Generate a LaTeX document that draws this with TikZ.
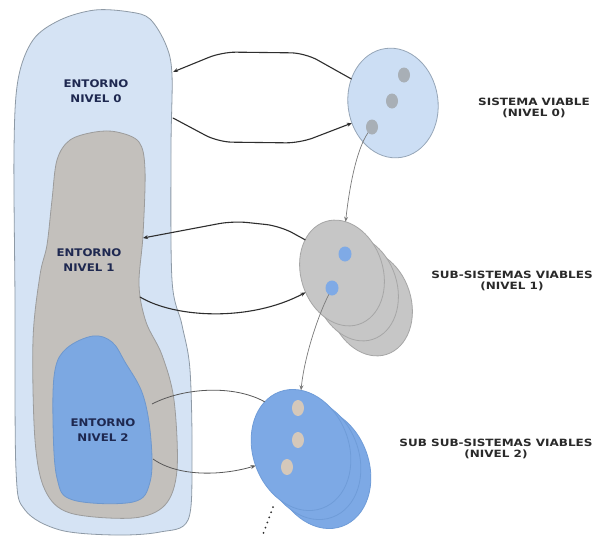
\documentclass[tikz,border=0pt]{standalone}
\usepackage{fontspec}
\usetikzlibrary{arrows.meta,shapes.geometric}

\newfontfamily\envfont[FakeStretch=1.12]{DejaVu Sans}
\newfontfamily\sysfont[FakeStretch=1.2]{DejaVu Sans}

% fills and outlines
\definecolor{envzero}{HTML}{D5E3F4}
\definecolor{envzeroline}{HTML}{8E9AA6}
\definecolor{envone}{HTML}{C3C0BC}
\definecolor{envoneline}{HTML}{9C9C9C}
\definecolor{envtwo}{HTML}{7CA8E2}
\definecolor{envtwoline}{HTML}{6E98CE}
\definecolor{syszero}{HTML}{CCDEF4}
\definecolor{syszeroline}{HTML}{96A6B8}
\definecolor{sysone}{HTML}{C6C6C6}
\definecolor{sysoneline}{HTML}{A6A6A6}
\definecolor{systwo}{HTML}{7DA9E5}
\definecolor{systwoline}{HTML}{6F9CD8}
\definecolor{dotzero}{HTML}{A8AFB6}
\definecolor{dotone}{HTML}{7FAAE6}
\definecolor{dottwo}{HTML}{D5C8BA}
\definecolor{navy}{HTML}{1E2850}
\definecolor{lbltext}{HTML}{2A2A2A}
\definecolor{connc}{HTML}{2E2E2E}
\definecolor{linkc}{HTML}{7A7A7A}

\begin{document}
\begin{tikzpicture}[x=1pt,y=-1pt,
  envlbl/.style={font=\envfont\bfseries\fontsize{10.5}{15}\selectfont, text=navy, align=center},
  syslbl/.style={font=\sysfont\bfseries\fontsize{10}{11}\selectfont, text=lbltext, align=center},
  blob/.style={line width=0.8pt, line join=round},
  sysA/.style={ellipse, draw=syszeroline, fill=syszero, line width=0.8pt,
    minimum width=90pt, minimum height=110pt, inner sep=0pt, outer sep=0pt, rotate=8},
  sysB/.style={ellipse, draw=sysoneline, fill=sysone, line width=0.8pt,
    minimum width=82pt, minimum height=108pt, inner sep=0pt, outer sep=0pt, rotate=18},
  sysC/.style={ellipse, draw=systwoline, fill=systwo, line width=0.8pt,
    minimum width=96pt, minimum height=124pt, inner sep=0pt, outer sep=0pt, rotate=20},
  spot/.style={ellipse, minimum width=12pt, minimum height=15pt, inner sep=0pt, outer sep=0pt},
  conn/.style={draw=connc, line width=1.1pt, line cap=round, line join=round},
  link/.style={draw=linkc, line width=0.7pt},
  linkdark/.style={draw=connc!80, line width=0.8pt},
  tip/.style={-{Stealth[length=5pt,width=4pt]}},
]
\useasboundingbox (0,0) rectangle (597,549);
\fill[white] (0,0) rectangle (597,549);

% environments, outermost first
\draw[blob, draw=envzeroline, fill=envzero] plot[smooth cycle, tension=0.55] coordinates {
  (33,40) (60,20) (95,10) (130,12) (150,19) (166,45) (172,75) (171,150) (172,280)
  (182,325) (190,370) (192,460) (188,520) (160,532) (115,535) (60,530) (25,510)
  (16,470) (15,300) (14,150) (18,80)};
\draw[blob, draw=envoneline, fill=envone] plot[smooth cycle, tension=0.55] coordinates {
  (117,132) (139,142) (145,170) (143,235) (139,285) (146,322) (162,355) (174,400)
  (177,470) (165,505) (133,518) (70,513) (45,490) (35,440) (33,340) (40,275)
  (47,245) (52,200) (57,160) (70,140) (95,132)};
\draw[blob, draw=envtwoline, fill=envtwo] plot[smooth cycle, tension=0.6] coordinates {
  (93,336) (112,342) (125,362) (143,395) (151,440) (150,482) (133,502) (73,500)
  (57,478) (53,420) (55,370) (67,348)};

\node[envlbl] (env0) at (96,91) {ENTORNO\\NIVEL 0};
\node[envlbl] (env1) at (89,260) {ENTORNO\\NIVEL 1};
\node[envlbl] (env2) at (103,430) {ENTORNO\\NIVEL 2};

% connector ends on the environment outlines
\coordinate (e0a) at (173,72);
\coordinate (e0b) at (173,118);
\coordinate (e1a) at (143,238);
\coordinate (e1b) at (140,297);
\coordinate (e2a) at (152,404);
\coordinate (e2b) at (153,459);

% viable systems
\node[sysA] (s0) at (393,103) {};
\node[spot, fill=dotzero] (d0a) at (404,75) {};
\node[spot, fill=dotzero] (d0b) at (392,101) {};
\node[spot, fill=dotzero] (d0c) at (372,127) {};

\node[sysB] (s1c) at (370,303) {};
\node[sysB] (s1b) at (356,288) {};
\node[sysB] (s1) at (342,273) {};
\node[spot, fill=dotone, minimum width=13pt, minimum height=15pt] (d1a) at (345,254) {};
\node[spot, fill=dotone, minimum width=13pt, minimum height=15pt] (d1b) at (332,288) {};

\node[sysC] (s2c) at (321,468) {};
\node[sysC] (s2b) at (311,459) {};
\node[sysC] (s2) at (301,450) {};
\node[spot, fill=dottwo, minimum height=16pt] (d2a) at (298,408) {};
\node[spot, fill=dottwo, minimum height=16pt] (d2b) at (298,440) {};
\node[spot, fill=dottwo, minimum height=16pt] (d2c) at (287,467) {};

% labels on the right
\node[syslbl] (l0) at (534,108) {SISTEMA VIABLE\\(NIVEL 0)};
\node[syslbl] (l1) at (512,281) {SUB-SISTEMAS VIABLES\\(NIVEL 1)};
\node[syslbl] (l2) at (496,449) {SUB SUB-SISTEMAS VIABLES\\(NIVEL 2)};

% exchanges between each system and its environment
\draw[conn,tip,rounded corners=14pt] (s0.142) -- (305,53) -- (222,52) -- (e0a);
\draw[conn,tip,rounded corners=14pt] (e0b) -- (218,142) -- (300,143) -- (s0.198);
\draw[conn,tip,rounded corners=14pt] (s1.120) -- (280,226) -- (233,221) -- (e1a);
\draw[conn,tip] (e1b) .. controls (175,318) and (250,322) .. (s1.190);
\draw[linkdark] (e2a) .. controls (185,387) and (235,385) .. (s2.107);
\draw[linkdark,tip] (e2b) .. controls (180,478) and (225,475) .. (s2.179);

% recursion links
\draw[link,tip] (d0c) .. controls (356,150) and (349,190) .. (s1.68);
\draw[link,tip] (d1b) .. controls (316,320) and (304,360) .. (s2.70);

% continuation
\coordinate (dt1) at (273,507);
\coordinate (dt2) at (262,537);
\draw[draw=connc, line width=2pt, line cap=round, dash pattern=on 0pt off 5.5pt] (dt1) -- (dt2);
\end{tikzpicture}
\end{document}
